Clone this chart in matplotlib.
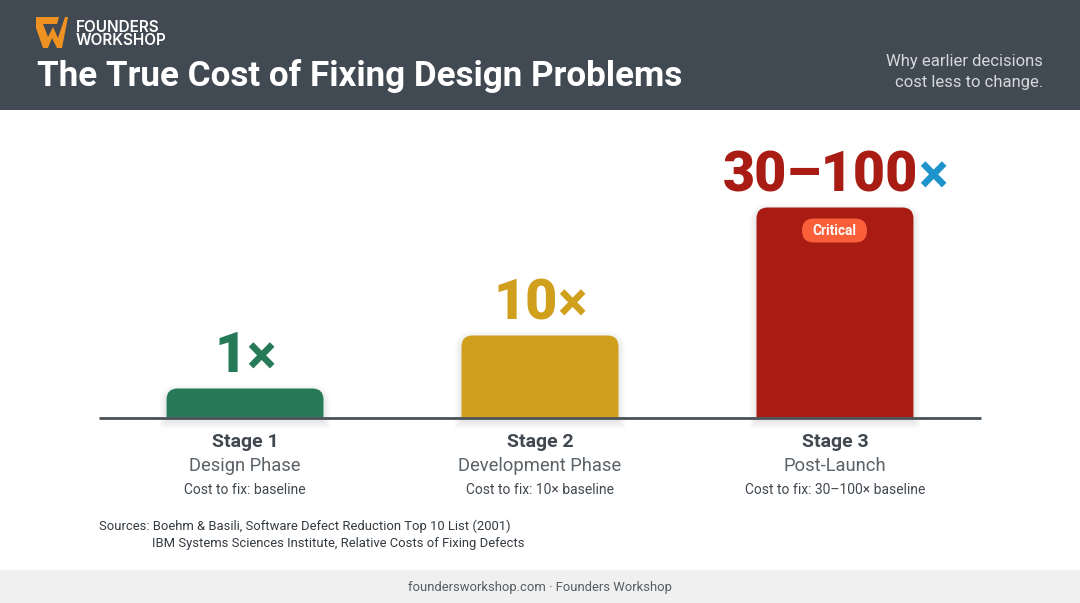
import matplotlib
matplotlib.use('Agg')
import matplotlib.pyplot as plt
from matplotlib.patches import Polygon, PathPatch, Rectangle, FancyBboxPatch
from matplotlib.path import Path

plt.rcParams['font.family'] = ['Roboto', 'DejaVu Sans']

stages = ['Stage 1', 'Stage 2', 'Stage 3']
phases = ['Design Phase', 'Development Phase', 'Post-Launch']
costs = ['Cost to fix: baseline', 'Cost to fix: 10× baseline', 'Cost to fix: 30–100× baseline']
multipliers = ['1', '10', '30–100']
bar_heights = [29, 82, 210]   # drawn heights, the bars are not to scale
bar_colors = ['#267a58', '#d0a01c', '#a81c14']
x_colors = ['#267a58', '#d0a01c', '#1f94cc']

dark = '#414a52'
text_dark = '#41484f'

fig = plt.figure(figsize=(10.8, 6.03), dpi=100, facecolor='white')

# page furniture in pixel coordinates
bg = fig.add_axes([0, 0, 1, 1])
bg.set_xlim(0, 1080)
bg.set_ylim(603, 0)
bg.axis('off')
bg.patch.set_alpha(0)
bg.set_zorder(1)
bg.add_patch(Rectangle((0, 0), 1080, 110, color=dark, lw=0))
bg.add_patch(Rectangle((0, 570), 1080, 33, color='#f0f0f0', lw=0))

# logo
logo = '#ef9222'
bg.add_patch(Polygon([(36, 17), (59, 17), (57, 24), (43, 24), (48, 37), (53, 27), (58, 38), (65, 17), (68, 17),
                      (62, 48), (57, 48), (52, 38), (48, 48), (43, 48), (36, 28)],
                     closed=True, color=logo, lw=0))

bg.text(76, 27, 'FOUNDERS', color='white', fontsize=11, fontweight='semibold', family='Inter',
        va='center', ha='left')
bg.text(76, 40.5, 'WORKSHOP', color='white', fontsize=11, fontweight='semibold', family='Inter',
        va='center', ha='left')
bg.text(37, 76, 'The True Cost of Fixing Design Problems', color='white', fontsize=25.2,
        fontweight='bold', va='center', ha='left')
bg.text(1043, 61.5, 'Why earlier decisions', color='#d5d8da', fontsize=12, va='center', ha='right')
bg.text(1043, 82, 'cost less to change.', color='#d5d8da', fontsize=12, va='center', ha='right')

bg.text(99, 526.5, 'Sources: Boehm & Basili, Software Defect Reduction Top 10 List (2001)',
        color='#333a40', fontsize=9.35, va='center', ha='left')
bg.text(152, 543.5, 'IBM Systems Sciences Institute, Relative Costs of Fixing Defects',
        color='#333a40', fontsize=9.35, va='center', ha='left')
bg.text(540, 587, 'foundersworkshop.com · Founders Workshop', color='#555c62', fontsize=9.4,
        va='center', ha='center')

# bars: axes spans the baseline, 1 y unit = 1 px
ax = fig.add_axes([99 / 1080, (603 - 417.5) / 603, 882 / 1080, 307 / 603])
ax.set_xlim(-0.495, 2.495)
ax.set_ylim(0, 307)
ax.axis('off')
ax.patch.set_alpha(0)

bar_w = 0.532
px = 1 / 295.0


def top_round(x0, x1, y0, h, r=11):
    rx = r * px
    verts = [(x0, y0), (x0, h - r), (x0, h), (x0 + rx, h), (x1 - rx, h), (x1, h), (x1, h - r), (x1, y0), (x0, y0)]
    codes = [Path.MOVETO, Path.LINETO, Path.CURVE3, Path.CURVE3, Path.LINETO, Path.CURVE3, Path.CURVE3,
             Path.LINETO, Path.CLOSEPOLY]
    return Path(verts, codes)


for i, h in enumerate(bar_heights):
    x0, x1 = i - bar_w / 2, i + bar_w / 2
    # soft shadow, stacked translucent outlines
    for s in range(8, 0, -1):
        ax.add_patch(PathPatch(top_round(x0 - (s - 1) * px, x1 + (s - 1) * px, -3 - s, h - 4 + s, r=11 + s),
                               fc='#505050', ec='none', alpha=0.016, clip_on=False, zorder=1))
    ax.add_patch(PathPatch(top_round(x0, x1, 0, h), fc=bar_colors[i], ec='none', zorder=3))

ax.plot([-0.495, 2.495], [0, 0], color='#4a5157', lw=2, zorder=4, solid_capstyle='butt', clip_on=False)

# value labels, number and cross drawn separately since the cross has its own colour
big = 40
for i, h in enumerate(bar_heights):
    t = ax.text(i, h + 16, multipliers[i], color=bar_colors[i], fontsize=big, fontweight='black',
                ha='left', va='baseline', zorder=5, clip_on=False)
    x_mark = ax.text(i, h + 14, '×', color=x_colors[i], fontsize=big, fontweight='bold',
                     ha='left', va='baseline', zorder=5, clip_on=False)
    fig.canvas.draw()
    w = t.get_window_extent().width
    xw = x_mark.get_window_extent().width
    cx = ax.transData.transform((i, 0))[0]
    left = cx - (w + xw) / 2
    t.set_x(ax.transData.inverted().transform((left, 0))[0])
    x_mark.set_x(ax.transData.inverted().transform((left + w, 0))[0])

# axis labels
for i in range(3):
    cx = 245 + i * 295
    bg.text(cx, 442, stages[i], color=text_dark, fontsize=14, fontweight='bold', ha='center', va='center')
    bg.text(cx, 466, phases[i], color='#5a6167', fontsize=13.2, ha='center', va='center')
    bg.text(cx, 489.5, costs[i], color='#41484f', fontsize=10, ha='center', va='center')

# badge
bg.add_patch(FancyBboxPatch((802, 218.5), 65, 24, boxstyle='round,pad=0,rounding_size=12', fc='#f9603a', ec='none',
                            zorder=6))
bg.text(834.5, 231, 'Critical', color='white', fontsize=9.8, fontweight='semibold', ha='center', va='center', zorder=7)

fig.savefig('out.png', dpi=100)
